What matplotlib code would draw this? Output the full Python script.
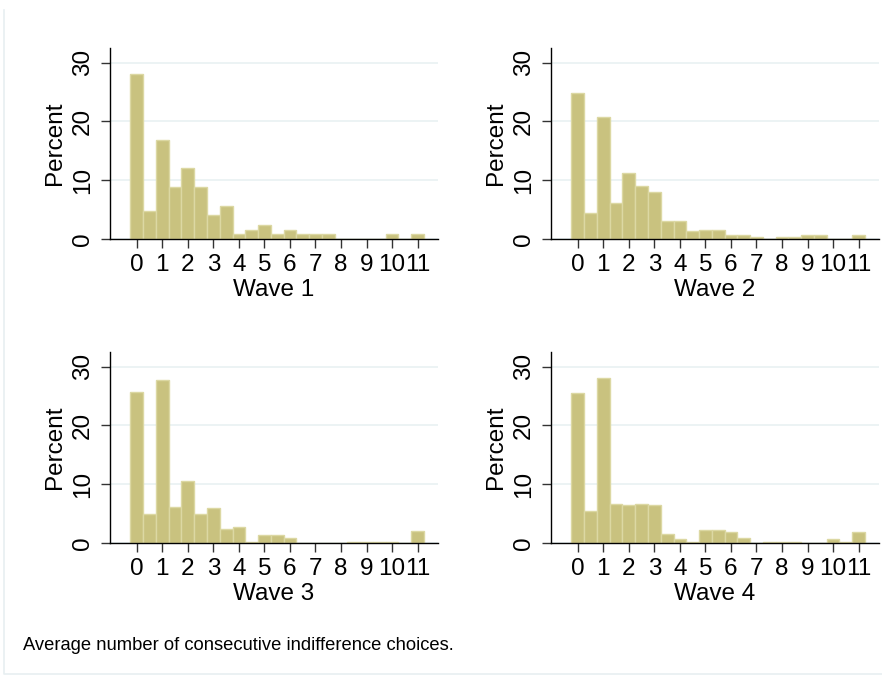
import numpy as np
import matplotlib
matplotlib.use("Agg")
import matplotlib.pyplot as plt
from matplotlib.lines import Line2D

plt.rcParams['font.family'] = ['Liberation Sans', 'DejaVu Sans']

# histogram bins (width 0.5), centred on 0, 0.5, ..., 11
bin_centers = np.arange(0, 11.5, 0.5)

wave1 = [28.0, 4.7, 16.8, 8.8, 12.1, 8.8, 4.1, 5.6, 0.85, 1.6, 2.4, 0.85,
         1.6, 0.85, 0.85, 0.85, 0, 0, 0, 0, 0.85, 0, 0.85]
wave2 = [24.8, 4.4, 20.7, 6.2, 11.3, 9.0, 8.0, 3.0, 3.0, 1.3, 1.6, 1.6,
         0.7, 0.7, 0.3, 0, 0.3, 0.3, 0.7, 0.7, 0, 0, 0.7]
wave3 = [25.7, 5.0, 27.8, 6.2, 10.5, 5.0, 6.0, 2.45, 2.8, 0.17, 1.4, 1.4,
         0.9, 0, 0, 0, 0, 0.2, 0.2, 0.2, 0.2, 0, 2.1]
wave4 = [25.5, 5.5, 28.1, 6.7, 6.4, 6.7, 6.4, 1.6, 0.6, 0.17, 2.2, 2.2,
         1.9, 0.9, 0, 0.2, 0.2, 0.2, 0, 0, 0.6, 0.2, 1.9]

waves = [wave1, wave2, wave3, wave4]
titles = ['Wave 1', 'Wave 2', 'Wave 3', 'Wave 4']
caption = 'Average number of consecutive indifference choices.'

W, H = 882, 677
fig = plt.figure(figsize=(W / 100, H / 100), dpi=100)

# faint outer frame (left and bottom only visible)
fig.add_artist(Line2D([4 / W, 4 / W, 1], [1 - 10 / H, 3 / H, 3 / H],
                      transform=fig.transFigure, color='#e8eff1', linewidth=1.2))

# panel boxes in pixels: left, top, right, bottom
boxes = [(110, 48, 438, 239), (551, 48, 879, 239),
         (110, 352, 438, 543), (551, 352, 879, 543)]

for vals, title, (l, t, r, b) in zip(waves, titles, boxes):
    ax = fig.add_axes([l / W, (H - b) / H, (r - l) / W, (b - t) / H])
    ax.bar(bin_centers, vals, width=0.5, color='#c9c27f',
           edgecolor='#dcd8a3', linewidth=1.0)
    ax.set_xlim(-1.05, 11.8)
    ax.set_ylim(0, 32.5)
    ax.set_xticks(range(12))
    ax.set_yticks([0, 10, 20, 30])
    ax.grid(axis='y', color='#eaf2f3', linewidth=1.3)
    ax.set_axisbelow(True)
    for s in ['top', 'right']:
        ax.spines[s].set_visible(False)
    for s in ['left', 'bottom']:
        ax.spines[s].set_color('black')
        ax.spines[s].set_linewidth(1.0)
    ax.tick_params(axis='both', length=6.5, width=1.0, color='#333333',
                   labelsize=17.5)
    ax.tick_params(axis='x', pad=4.5)
    ax.tick_params(axis='y', pad=5)
    plt.setp(ax.get_yticklabels(), rotation=90, va='center')
    ax.set_xlabel(title, fontsize=17.5, labelpad=2)
    ax.set_ylabel('Percent', fontsize=17.5, labelpad=4)

fig.text(23 / W, (H - 650) / H, caption, fontsize=13.2, ha='left', va='baseline')

fig.savefig('out.png', dpi=100, facecolor='white')
